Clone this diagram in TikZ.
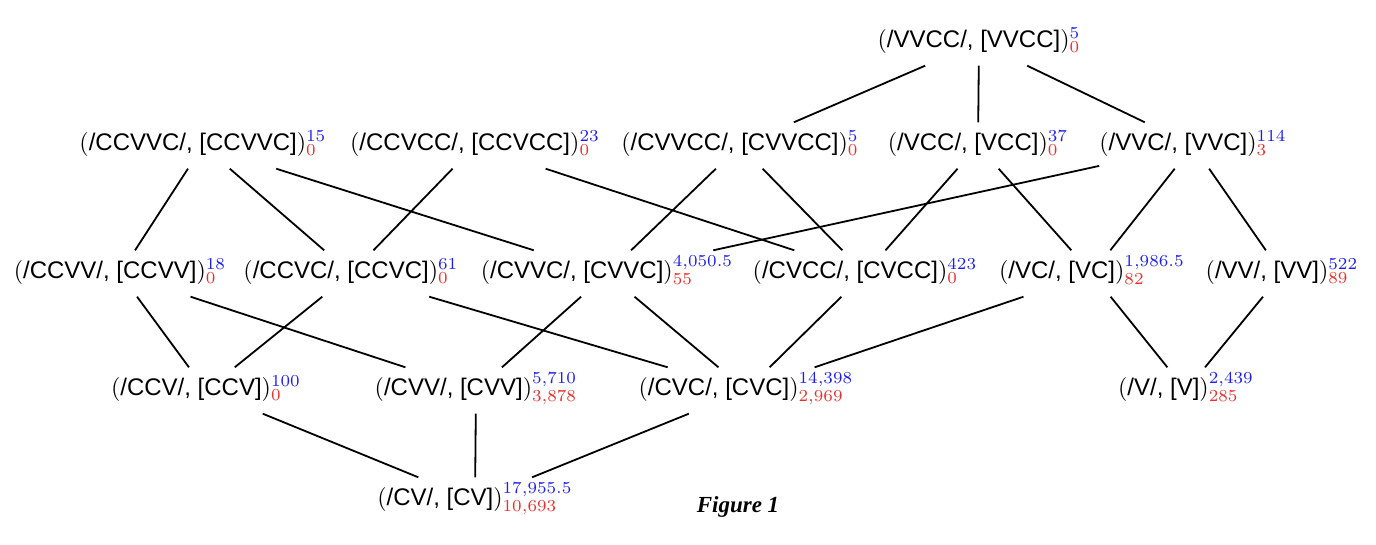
\documentclass[tikz,border=0pt]{standalone}
\usepackage[no-math]{fontspec}
\usepackage{graphicx}
\setsansfont{Liberation Sans}
\newfontfamily\figfont{Liberation Serif}
\definecolor{myred}{RGB}{232,48,44}
\definecolor{myblue}{RGB}{30,30,240}
\newcommand{\lbl}[3]{\scalebox{2.4}{$($\textsf{#1}$)^{\textcolor{myblue}{#2}}_{\textcolor{myred}{#3}}$}}
\begin{document}
\begin{tikzpicture}[x=1pt,y=-1pt,
  every node/.style={font=\fontsize{10}{12}\selectfont},
  lat/.style={inner sep=0pt, text height=27.5pt, text depth=18.5pt, anchor=base},
  edge/.style={line width=1.8pt}]
\useasboundingbox (0,0) rectangle (1376,544);
% row 0
\node[lat] (vvcc) at (979,47) {\lbl{/VVCC/, [VVCC]}{5}{0}};
% row 1
\node[lat] (ccvvc) at (203,150) {\lbl{/CCVVC/, [CCVVC]}{15}{0}};
\node[lat] (ccvcc) at (475,150) {\lbl{/CCVCC/, [CCVCC]}{23}{0}};
\node[lat] (cvvcc) at (740,150) {\lbl{/CVVCC/, [CVVCC]}{5}{0}};
\node[lat] (vcc) at (978,150) {\lbl{/VCC/, [VCC]}{37}{0}};
\node[lat] (vvc) at (1193,150) {\lbl{/VVC/, [VVC]}{114}{3}};
% row 2
\node[lat] (ccvv) at (120,278) {\lbl{/CCVV/, [CCVV]}{18}{0}};
\node[lat] (ccvc) at (351,278) {\lbl{/CCVC/, [CCVC]}{61}{0}};
\node[lat] (cvvc) at (607,278) {\lbl{/CVVC/, [CVVC]}{4{,}050.5}{55}};
\node[lat] (cvcc) at (865,278) {\lbl{/CVCC/, [CVCC]}{423}{0}};
\node[lat] (vc) at (1092,278) {\lbl{/VC/, [VC]}{1{,}986.5}{82}};
\node[lat] (vv) at (1282,278) {\lbl{/VV/, [VV]}{522}{89}};
% row 3
\node[lat] (ccv) at (206,395) {\lbl{/CCV/, [CCV]}{100}{0}};
\node[lat] (cvv) at (476,395) {\lbl{/CVV/, [CVV]}{5{,}710}{3{,}878}};
\node[lat] (cvc) at (746,395) {\lbl{/CVC/, [CVC]}{14{,}398}{2{,}969}};
\node[lat] (v) at (1186,395) {\lbl{/V/, [V]}{2{,}439}{285}};
% row 4
\node[lat] (cv) at (475,505) {\lbl{/CV/, [CV]}{17{,}955.5}{10{,}693}};
\node[anchor=base, font={\fontsize{23}{28}\figfont\bfseries\itshape}] (fig) at (738,512) {Figure 1};
% edges
\draw[edge] (vvcc) -- (cvvcc);
\draw[edge] (vvcc) -- (vcc);
\draw[edge] (vvcc) -- (vvc);
\draw[edge] (ccvvc) -- (ccvv);
\draw[edge] (ccvvc) -- (ccvc);
\draw[edge] (ccvvc) -- (cvvc);
\draw[edge] (ccvcc) -- (ccvc);
\draw[edge] (ccvcc) -- (cvcc);
\draw[edge] (cvvcc) -- (cvvc);
\draw[edge] (cvvcc) -- (cvcc);
\draw[edge] (vcc) -- (cvcc);
\draw[edge] (vcc) -- (vc);
\draw[edge] (vvc) -- (cvvc);
\draw[edge] (vvc) -- (vc);
\draw[edge] (vvc) -- (vv);
\draw[edge] (ccvv) -- (ccv);
\draw[edge] (ccvv) -- (cvv);
\draw[edge] (ccvc) -- (ccv);
\draw[edge] (ccvc) -- (cvc);
\draw[edge] (cvvc) -- (cvv);
\draw[edge] (cvvc) -- (cvc);
\draw[edge] (cvcc) -- (cvc);
\draw[edge] (vc) -- (cvc);
\draw[edge] (vc) -- (v);
\draw[edge] (vv) -- (v);
\draw[edge] (ccv) -- (cv);
\draw[edge] (cvv) -- (cv);
\draw[edge] (cvc) -- (cv);
\end{tikzpicture}
\end{document}
